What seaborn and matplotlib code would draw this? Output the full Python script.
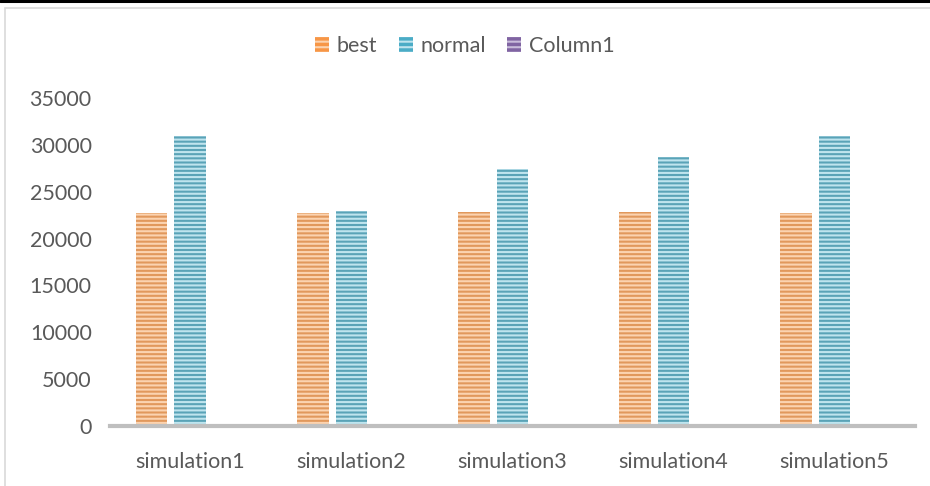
import numpy as np
import pandas as pd
import seaborn as sns
import matplotlib.pyplot as plt
from matplotlib.patches import Patch, Rectangle
from matplotlib.lines import Line2D

sims = ["simulation1", "simulation2", "simulation3", "simulation4", "simulation5"]
best = [22700, 22700, 22800, 22800, 22700]
normal = [31000, 22900, 27400, 28700, 30950]
column1 = [np.nan] * 5
series = ["best", "normal", "Column1"]
face = {"best": "#F79646", "normal": "#4BACC6", "Column1": "#8064A2"}
stripe = {"best": "#FBD3B0", "normal": "#BFE4EE", "Column1": "#C9BCDB"}

df = pd.DataFrame({
    "sim": sims * 3,
    "series": ["best"] * 5 + ["normal"] * 5 + ["Column1"] * 5,
    "value": best + normal + column1,
})

sns.set_theme(style="white")
plt.rcParams["font.family"] = ["Lato", "DejaVu Sans"]
plt.rcParams["hatch.linewidth"] = 1.5

fig = plt.figure(figsize=(9.3, 4.86), dpi=100)
ax = fig.add_axes([0.118, 0.1235, 0.866, 0.6745])
sns.barplot(data=df, x="sim", y="value", hue="series", hue_order=series,
            palette=face, width=0.72, gap=0.18, ax=ax, legend=False,
            errorbar=None)

# horizontal stripe look
for cont, name in zip(ax.containers, series):
    for bar in cont:
        bar.set_hatch("----")
        bar.set_edgecolor(stripe[name])
        bar.set_linewidth(0)

ax.set_ylim(0, 35000)
ax.set_yticks(range(0, 35001, 5000))
ax.set_xlabel("")
ax.set_ylabel("")
sns.despine(ax=ax, left=True, top=True, right=True)
ax.spines["bottom"].set_color("#BFBFBF")
ax.spines["bottom"].set_linewidth(3)
ax.tick_params(axis="both", length=0, labelsize=15.5, labelcolor="#595959")
ax.tick_params(axis="x", pad=19)
ax.tick_params(axis="y", pad=13)

handles = [Patch(facecolor=face[s], edgecolor=stripe[s], hatch="---", linewidth=0, label=s)
           for s in series]
fig.legend(handles=handles, loc="center", bbox_to_anchor=(0.5, 0.905), ncol=3,
           frameon=False, fontsize=15.5, labelcolor="#595959", handlelength=0.65,
           handleheight=0.65, handletextpad=0.35, columnspacing=1.0)

# chart frame and top rule
fig.add_artist(Rectangle((5 / 930, -0.02), 1.0, 1 - 8 / 486 + 0.02, transform=fig.transFigure,
                         facecolor="none", edgecolor="#D9D9D9", linewidth=1.2))
fig.add_artist(Line2D([0, 1], [1 - 1.5 / 486, 1 - 1.5 / 486], transform=fig.transFigure,
                      color="black", linewidth=2.2))

fig.savefig("out.png", dpi=100)
